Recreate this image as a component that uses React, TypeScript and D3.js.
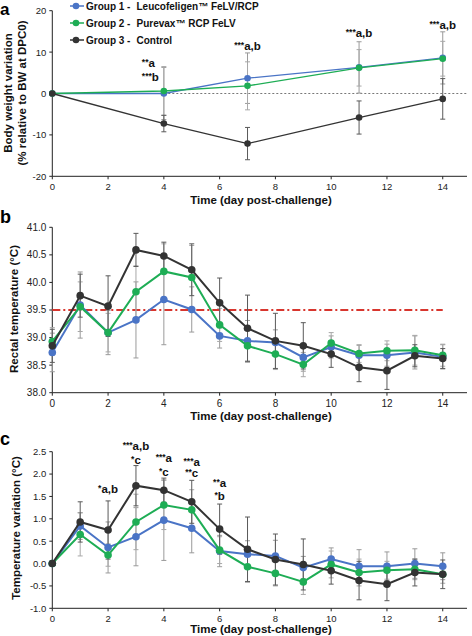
import React from 'react';
import * as d3 from 'd3';

const FONT = '"Liberation Sans", Arial, Helvetica, sans-serif';

// ---------- Panel a : body weight variation ----------
const bwDays = [0, 4, 7, 11, 14];
const bwG1 = [0, 0.0, 3.7, 6.3, 8.6];
const bwG2 = [0, 0.6, 1.85, 6.2, 8.4];
const bwG3 = [0, -7.25, -12.1, -5.8, -1.3];
const bwG1Sd = [0, 6.3, 6.1, 6.2, 6.3];
const bwG2Sd = [0, 5.9, 5.8, 4.4, 4.2];
const bwG3Sd = [0, 2.0, 3.9, 4.0, 4.9];
const bwTicks = [-20, -10, 0, 10, 20];

// ---------- Panel b : rectal temperature ----------
const dayList = [0, 1, 2, 3, 4, 5, 6, 7, 8, 9, 10, 11, 12, 13, 14];
const tempG1 = [38.73, 39.59, 39.09, 39.32, 39.69, 39.51, 39.03, 38.94, 38.91, 38.64, 38.83, 38.68, 38.68, 38.73, 38.65];
const tempG2 = [38.93, 39.56, 39.09, 39.83, 40.2, 40.09, 39.23, 38.85, 38.7, 38.51, 38.9, 38.71, 38.76, 38.77, 38.68];
const tempG3 = [38.85, 39.76, 39.57, 40.59, 40.48, 40.23, 39.63, 39.17, 38.94, 38.85, 38.7, 38.46, 38.4, 38.67, 38.62];
const tempG1Sd = [0.35, 0.6, 0.4, 0.69, 0.82, 0.41, 0.22, 0.37, 0.23, 0.25, 0.2, 0.18, 0.2, 0.3, 0.22];
const tempG2Sd = [0.25, 0.45, 0.35, 0.47, 0.5, 0.58, 0.3, 0.3, 0.28, 0.22, 0.19, 0.16, 0.18, 0.27, 0.2];
const tempG3Sd = [0.3, 0.39, 0.55, 0.3, 0.25, 0.47, 0.45, 0.6, 0.5, 0.42, 0.24, 0.26, 0.34, 0.2, 0.18];
const tempTicks = [38.0, 38.5, 39.0, 39.5, 40.0, 40.5, 41.0];
const feverThreshold = 39.5;

// ---------- Panel c : temperature variation ----------
const varG1 = [0, 0.84, 0.36, 0.6, 0.97, 0.79, 0.28, 0.21, 0.17, -0.09, 0.1, -0.06, -0.06, 0.0, -0.06];
const varG2 = [0, 0.65, 0.19, 0.93, 1.31, 1.2, 0.3, -0.07, -0.22, -0.41, -0.02, -0.2, -0.15, -0.13, -0.24];
const varG3 = [0, 0.93, 0.75, 1.74, 1.64, 1.38, 0.77, 0.32, 0.09, -0.02, -0.16, -0.38, -0.46, -0.2, -0.24];
const varG1Sd = [0, 0.3, 0.57, 0.65, 0.9, 0.55, 0.35, 0.3, 0.35, 0.25, 0.25, 0.37, 0.32, 0.33, 0.3];
const varG2Sd = [0, 0.48, 0.25, 0.62, 0.55, 0.45, 0.3, 0.35, 0.28, 0.28, 0.3, 0.3, 0.2, 0.23, 0.2];
const varG3Sd = [0, 0.45, 0.65, 0.45, 0.27, 0.48, 0.56, 0.72, 0.57, 0.57, 0.3, 0.43, 0.37, 0.3, 0.32];
const varTicks = [-1.0, -0.5, 0.0, 0.5, 1.0, 1.5, 2.0, 2.5];

const xTicks = [0, 2, 4, 6, 8, 10, 12, 14];

const groupNames = ['Group 1 -', 'Group 2 -', 'Group 3 -'];
const vaccineNames = ['Leucofeligen\u2122 FeLV/RCP', 'Purevax\u2122 RCP FeLV', 'Control'];
const groupColors = ['#4A74C6', '#1EAD55', '#333333'];
const errColors = ['#9a9a9a', '#a8a8a8', '#5a5a5a'];

// significance annotations: [day, value where label sits, stars, letters, align]
const annA: [number, number, string, string, string][] = [
  [4, 7.3, '**', 'a', 'start'],
  [4, 3.9, '***', 'b', 'start'],
  [7, 11.4, '***', 'a,b', 'middle'],
  [11, 14.6, '***', 'a,b', 'middle'],
  [14, 16.5, '***', 'a,b', 'middle'],
];
const annC: [number, number, string, string, string][] = [
  [2, 1.67, '*', 'a,b', 'middle'],
  [3, 2.63, '***', 'a,b', 'middle'],
  [3, 2.32, '*', 'c', 'middle'],
  [4, 2.35, '***', 'a', 'middle'],
  [4, 2.05, '*', 'c', 'middle'],
  [5, 2.27, '***', 'a', 'middle'],
  [5, 2.02, '**', 'c', 'middle'],
  [6, 1.79, '**', 'a', 'middle'],
  [6, 1.51, '*', 'b', 'middle'],
];

const x = d3.scaleLinear().domain([0, 14.87]).range([52.3, 467]);

type PanelProps = {
  days: number[];
  series: number[][];
  sds: number[][];
  y: d3.ScaleLinear<number, number>;
  yTicks: number[];
  fmt: (v: number) => string;
  tickSize: number;
  r: number;
  lw: number;
  titleY: number;
  children?: React.ReactNode;
};

function Panel({ days, series, sds, y, yTicks, fmt, tickSize, r, lw, titleY, children }: PanelProps) {
  const [y0, y1] = y.range();
  const xEnd = x.range()[1];
  const line = (vals: number[]) =>
    d3.line<number>().x((_, i) => x(days[i])).y((v) => y(v))(vals) || '';
  return (
    <g>
      <line x1={x(0)} x2={x(0)} y1={y0} y2={y1} stroke="#222" strokeWidth={1} />
      <line x1={x(0)} x2={xEnd} y1={y0} y2={y0} stroke="#222" strokeWidth={1} />
      {yTicks.map((t) => (
        <g key={'yt' + t}>
          <line x1={x(0) - 3} x2={x(0)} y1={y(t)} y2={y(t)} stroke="#222" />
          <text x={x(0) - 6} y={y(t) + 3.4} fontSize={tickSize} textAnchor="end" fill="#222">
            {fmt(t)}
          </text>
        </g>
      ))}
      {xTicks.map((t) => (
        <g key={'xt' + t}>
          <line x1={x(t)} x2={x(t)} y1={y0} y2={y0 + 3} stroke="#222" />
          <text x={x(t)} y={y0 + 14} fontSize={tickSize} textAnchor="middle" fill="#222">
            {t}
          </text>
        </g>
      ))}
      <text x={261} y={titleY} fontSize={11.5} fontWeight="bold" textAnchor="middle" fill="#111">
        Time (day post-challenge)
      </text>
      {children}
      {series.map((vals, gi) =>
        vals.map((v, i) => {
          const sd = sds[gi][i];
          if (!sd) return null;
          const cx = x(days[i]);
          return (
            <g key={'eb' + gi + '-' + i} stroke={errColors[gi]} strokeWidth={1}>
              <line x1={cx} x2={cx} y1={y(v - sd)} y2={y(v + sd)} />
              <line x1={cx - 2.5} x2={cx + 2.5} y1={y(v - sd)} y2={y(v - sd)} />
              <line x1={cx - 2.5} x2={cx + 2.5} y1={y(v + sd)} y2={y(v + sd)} />
            </g>
          );
        })
      )}
      {series.map((vals, gi) => (
        <g key={'s' + gi}>
          <path d={line(vals)} fill="none" stroke={groupColors[gi]} strokeWidth={lw} />
          {vals.map((v, i) => (
            <circle key={i} cx={x(days[i])} cy={y(v)} r={r} fill={groupColors[gi]} />
          ))}
        </g>
      ))}
    </g>
  );
}

function Annotations({ items, y }: { items: [number, number, string, string, string][]; y: d3.ScaleLinear<number, number> }) {
  return (
    <g>
      {items.map(([day, v, stars, letters, align], i) => (
        <text
          key={i}
          x={align === 'start' ? x(day) - 22 : x(day)}
          y={y(v) + 4}
          textAnchor={align}
          fontWeight="bold"
          fontSize={11.5}
          fill="#111"
        >
          <tspan fontSize={8.5} dy={-2}>{stars}</tspan>
          <tspan dy={2}>{letters}</tspan>
        </text>
      ))}
    </g>
  );
}

export default function App() {
  const yA = d3.scaleLinear().domain([-20, 20]).range([176.3, 10.7]);
  const yB = d3.scaleLinear().domain([38, 41]).range([392.7, 227.3]);
  const yC = d3.scaleLinear().domain([-1, 2.5]).range([608.3, 451.7]);
  const fmtA = d3.format('d');
  const fmt1 = (v: number) => d3.format('.1f')(v).replace('\u2212', '-');

  return (
    <svg
      width={472}
      height={636}
      style={{ position: 'absolute', left: 0, top: 0, background: '#fff' }}
      fontFamily={FONT}
    >
      <rect width={472} height={636} fill="#fff" />
      {/* Panel a */}
      <text x={0} y={15} fontSize={17} fontWeight="bold">a</text>
      <text transform="translate(12,93) rotate(-90)" fontSize={11.5} fontWeight="bold" textAnchor="middle" fill="#111">
        Body weight variation
      </text>
      <text transform="translate(26,93) rotate(-90)" fontSize={11.5} fontWeight="bold" textAnchor="middle" fill="#111">
        (% relative to BW at DPC0)
      </text>
      <Panel
        days={bwDays}
        series={[bwG1, bwG2, bwG3]}
        sds={[bwG1Sd, bwG2Sd, bwG3Sd]}
        y={yA}
        yTicks={bwTicks}
        fmt={(v) => fmtA(v).replace('\u2212', '-')}
        tickSize={9.5}
        r={3.3}
        lw={1.3}
        titleY={204}
      >
        <line x1={x(0)} x2={x.range()[1]} y1={yA(0)} y2={yA(0)} stroke="#555" strokeWidth={0.8} strokeDasharray="2,2" />
      </Panel>
      <Annotations items={annA} y={yA} />
      {groupNames.map((g, i) => {
        const ly = 6 + i * 17;
        return (
          <g key={'lg' + i}>
            <line x1={70} x2={84} y1={ly} y2={ly} stroke={groupColors[i]} strokeWidth={1.5} />
            <circle cx={76} cy={ly} r={3.3} fill={groupColors[i]} />
            <text x={86} y={ly + 3.7} fontSize={10} fontWeight="bold" fill="#111">{g}</text>
            <text x={136.5} y={ly + 3.7} fontSize={10} fontWeight="bold" fill="#111">{vaccineNames[i]}</text>
          </g>
        );
      })}

      {/* Panel b */}
      <text x={0} y={223} fontSize={18} fontWeight="bold">b</text>
      <text transform="translate(18,309) rotate(-90)" fontSize={11.5} fontWeight="bold" textAnchor="middle" fill="#111">
        Rectal temperature (°C)
      </text>
      <Panel
        days={dayList}
        series={[tempG1, tempG2, tempG3]}
        sds={[tempG1Sd, tempG2Sd, tempG3Sd]}
        y={yB}
        yTicks={tempTicks}
        fmt={fmt1}
        tickSize={10}
        r={3.8}
        lw={2}
        titleY={420}
      >
        <line
          x1={x(0)}
          x2={x(14)}
          y1={yB(feverThreshold)}
          y2={yB(feverThreshold)}
          stroke="#D8362E"
          strokeWidth={2}
          strokeDasharray="8,3,2,3"
        />
      </Panel>

      {/* Panel c */}
      <text x={0} y={445} fontSize={18} fontWeight="bold">c</text>
      <text transform="translate(20,528) rotate(-90)" fontSize={11.5} fontWeight="bold" textAnchor="middle" fill="#111">
        Temperature variation (°C)
      </text>
      <Panel
        days={dayList}
        series={[varG1, varG2, varG3]}
        sds={[varG1Sd, varG2Sd, varG3Sd]}
        y={yC}
        yTicks={varTicks}
        fmt={fmt1}
        tickSize={9.5}
        r={3.8}
        lw={2}
        titleY={633}
      />
      <Annotations items={annC} y={yC} />
    </svg>
  );
}
